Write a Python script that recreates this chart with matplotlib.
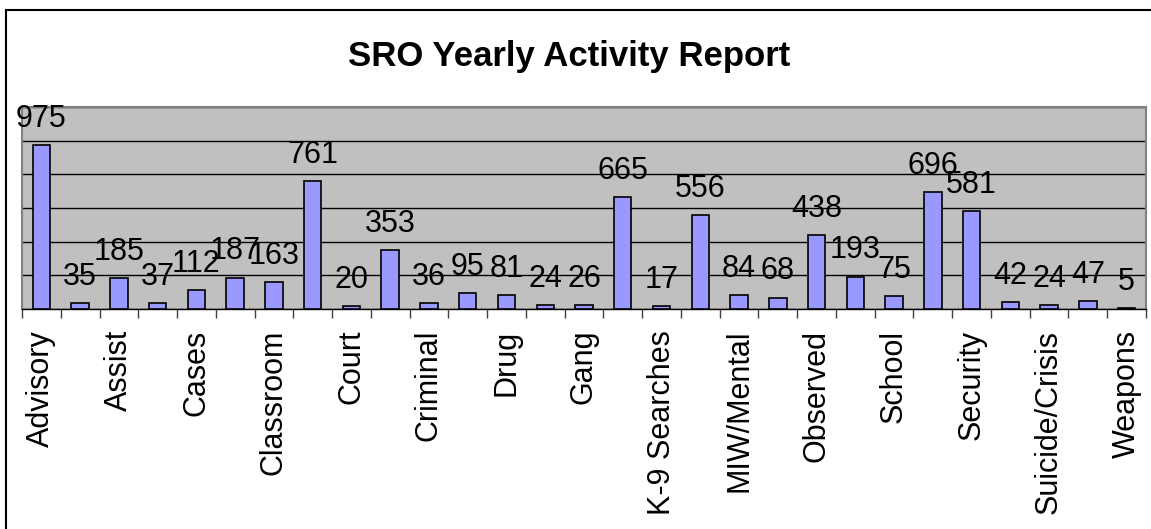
import matplotlib.pyplot as plt
from matplotlib.patches import Rectangle

plt.rcParams['font.family'] = ['Liberation Sans', 'DejaVu Sans']

# only every other category name is printed on the original chart
categories = ['Advisory', '', 'Assist', '', 'Cases', '', 'Classroom', '',
              'Court', '', 'Criminal', '', 'Drug', '', 'Gang', '',
              'K-9 Searches', '', 'MIW/Mental', '', 'Observed', '', 'School', '',
              'Security', '', 'Suicide/Crisis', '', 'Weapons']
counts = [975, 35, 185, 37, 112, 187, 163, 761, 20, 353, 36, 95, 81, 24, 26,
          665, 17, 556, 84, 68, 438, 193, 75, 696, 581, 42, 24, 47, 5]
title = 'SRO Yearly Activity Report'

W, H = 1151, 529
fig = plt.figure(figsize=(W / 100, H / 100), dpi=100)
ax = fig.add_axes([22 / W, 1 - 309 / H, (1146 - 22) / W, (309 - 107) / H])

xs = list(range(len(counts)))
ax.bar(xs, counts, width=0.45, color='#9999FF', edgecolor='black', linewidth=1.2, zorder=3)

for x, v in zip(xs, counts):
    ax.annotate(str(v), (x, v), xytext=(0, 13), textcoords='offset points',
                ha='center', va='baseline', fontsize=22, annotation_clip=False, zorder=4)

ax.set_facecolor('#C0C0C0')
ax.set_xlim(-0.5, len(counts) - 0.5)
ax.set_ylim(0, 1200)
ax.set_yticks(range(0, 1201, 200))
ax.set_yticklabels([])
ax.tick_params(axis='y', length=0)
ax.grid(axis='y', color='black', linewidth=1, zorder=1)

ax.set_xticks(xs)
ax.set_xticklabels(categories, rotation=90, fontsize=22)
ax.tick_params(axis='x', which='major', length=0, pad=15)
ax.set_xticks([x - 0.5 for x in xs] + [len(counts) - 0.5], minor=True)
ax.tick_params(axis='x', which='minor', length=6.5, width=1, color='#404040', direction='out')

for side in ['top', 'right', 'left']:
    ax.spines[side].set_color('#808080')
    ax.spines[side].set_linewidth(1.5)
ax.spines['bottom'].set_color('black')
ax.spines['bottom'].set_linewidth(1)

fig.text(569 / W, 1 - 66 / H, title, ha='center', va='baseline', fontsize=25, fontweight='bold')

# outer chart border, runs off the right and bottom edges
fig.patches.append(Rectangle((6 / W, -0.1), 1.2, 1 - 10 / H + 0.1, transform=fig.transFigure,
                             fill=False, edgecolor='black', linewidth=1.5))

fig.savefig('out.png', dpi=100)
